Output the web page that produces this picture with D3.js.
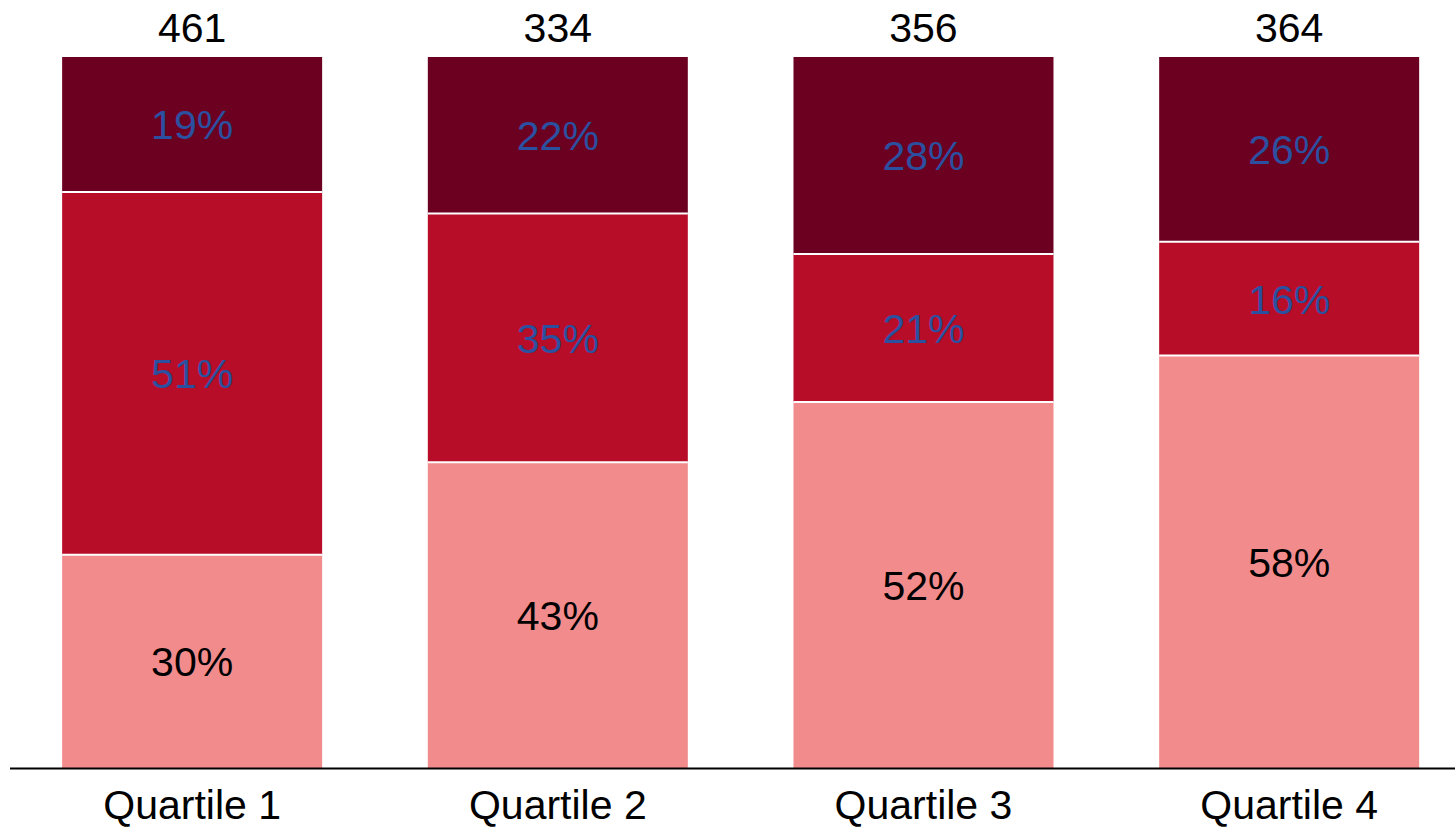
<!DOCTYPE html>
<html>
<head>
<meta charset="utf-8">
<script src="https://cdn.jsdelivr.net/npm/d3@7"></script>
<style>
  html, body { margin: 0; padding: 0; background: #fff; }
  svg { display: block; }
  text { font-family: "Liberation Sans", Arial, sans-serif; }
</style>
</head>
<body>
<svg id="chart" width="1455" height="829"></svg>
<script>
const categories = ["Quartile 1", "Quartile 2", "Quartile 3", "Quartile 4"];
const totals = [461, 334, 356, 364];
const seriesKeys = ["low", "mid", "high"];
const lowPct  = [30, 43, 52, 58];
const midPct  = [51, 35, 21, 16];
const highPct = [19, 22, 28, 26];

const colors = { low: "#F28B8C", mid: "#B70D28", high: "#6B0020" };
const labelColors = { low: "#000000", mid: "#2B50A0", high: "#2B50A0" };

const rows = categories.map((c, i) => ({ cat: c, total: totals[i], low: lowPct[i], mid: midPct[i], high: highPct[i] }));

const FS = 41;
const svg = d3.select("#chart");
const x = d3.scaleBand().domain(categories).range([9.3, 1472]).paddingInner(0.289).paddingOuter(0.1445);
const y = d3.scaleLinear().domain([0, 1]).range([768, 57]);

const stacked = d3.stack().keys(seriesKeys).offset(d3.stackOffsetExpand)(rows);

const layers = svg.append("g").selectAll("g").data(stacked).join("g").attr("fill", d => colors[d.key]);
layers.selectAll("rect").data(d => d).join("rect")
  .attr("x", d => x(d.data.cat))
  .attr("width", x.bandwidth())
  .attr("y", d => y(d[1]))
  .attr("height", d => y(d[0]) - y(d[1]));

// white separators between segments
stacked.slice(0, -1).forEach(layer => {
  svg.append("g").selectAll("line").data(layer).join("line")
    .attr("x1", d => x(d.data.cat)).attr("x2", d => x(d.data.cat) + x.bandwidth())
    .attr("y1", d => y(d[1])).attr("y2", d => y(d[1]))
    .attr("stroke", "#fff").attr("stroke-width", 2);
});

// segment labels
stacked.forEach(layer => {
  svg.append("g").selectAll("text").data(layer).join("text")
    .attr("x", d => x(d.data.cat) + x.bandwidth() / 2)
    .attr("y", d => (y(d[0]) + y(d[1])) / 2)
    .attr("dy", "0.36em")
    .attr("text-anchor", "middle")
    .attr("font-size", FS)
    .attr("fill", labelColors[layer.key])
    .text(d => d.data[layer.key] + "%");
});

// totals
svg.append("g").selectAll("text").data(rows).join("text")
  .attr("x", d => x(d.cat) + x.bandwidth() / 2)
  .attr("y", 42)
  .attr("text-anchor", "middle")
  .attr("font-size", FS)
  .attr("fill", "#000")
  .text(d => d.total);

// axis
const axis = svg.append("g").attr("transform", "translate(0,768)")
  .call(d3.axisBottom(x).tickSize(0).tickPadding(22));
axis.select(".domain").attr("d", "M10,0.5H1455").attr("stroke", "#000").attr("stroke-width", 2);
axis.selectAll(".tick text").attr("font-size", FS).attr("fill", "#000")
  .attr("font-family", "'Liberation Sans', Arial, sans-serif");
</script>
</body>
</html>
